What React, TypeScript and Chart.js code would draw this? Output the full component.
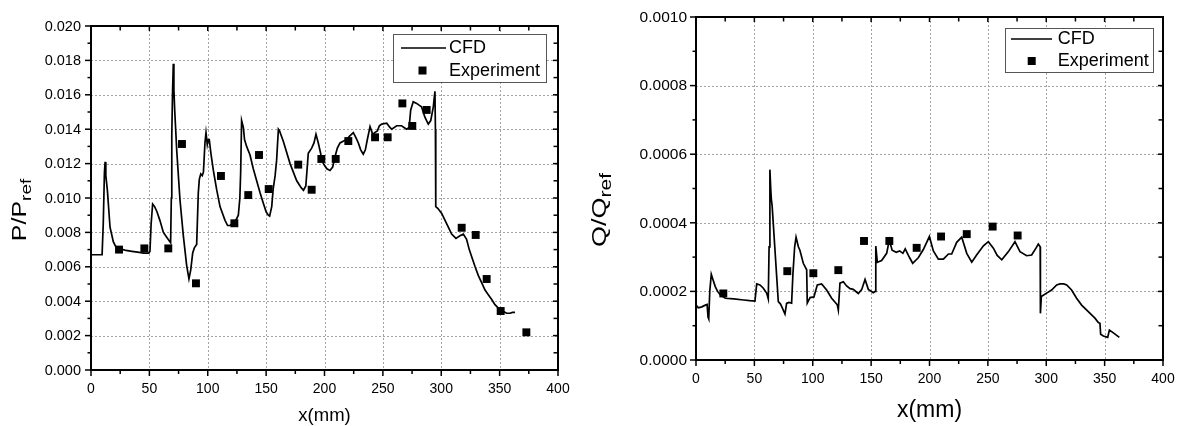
import React, { useEffect, useRef } from 'react';
import { Chart, registerables } from 'chart.js';

Chart.register(...registerables);

// ---------- data ----------
const seriesLabels = ['CFD', 'Experiment'];
const xAxisTitle = 'x(mm)';

const xTickValues = [0, 50, 100, 150, 200, 250, 300, 350, 400];
const xTickLabels = ['0', '50', '100', '150', '200', '250', '300', '350', '400'];

const pTickValues = [0, 0.002, 0.004, 0.006, 0.008, 0.01, 0.012, 0.014, 0.016, 0.018, 0.02];
const pTickLabels = ['0.000', '0.002', '0.004', '0.006', '0.008', '0.010', '0.012', '0.014', '0.016', '0.018', '0.020'];

const qTickValues = [0, 0.0002, 0.0004, 0.0006, 0.0008, 0.001];
const qTickLabels = ['0.0000', '0.0002', '0.0004', '0.0006', '0.0008', '0.0010'];

// Left panel: P/Pref
const cfdPX = [
  0, 5, 9.5, 10.5, 11.5, 12.1, 12.7, 14, 16.3, 19.1, 21, 23.4, 26, 30, 35, 40, 45, 48, 49.5,
  50.5, 51.5, 52.8, 54.5, 56.5, 59, 62, 65, 68.2, 68.8, 69.2, 69.8, 70.5, 71.0, 71.7, 73.4,
  76.2, 79.1, 81.9, 83.9, 85.4, 87.1, 88.5, 90.5, 91.9, 92.8, 94.0, 95.3, 96.3, 97.6, 98.5,
  99.6, 100.5, 101.3, 102.7, 104.8, 107.6, 110.5, 114.8, 117, 119.1, 121, 123.3, 126.2, 127.5,
  128.2, 129, 130.5, 131.5, 133.3, 136.2, 139, 141.9, 144.8, 147.6, 150, 151.9, 153, 154.8,
  156, 157.7, 159, 160.5, 161.5, 164.7, 170.5, 176.2, 180, 182, 184, 186.1, 189, 191, 192.7,
  194.7, 197, 199, 202, 204.7, 207, 209, 211, 213.3, 216, 219, 221.5, 224.7, 227, 229, 231,
  233.2, 235, 236.7, 239, 241.3, 243, 245.3, 247, 249, 253.3, 256, 257.6, 261.8, 266, 270.3,
  272.5, 273.8, 276, 278.9, 281, 283.1, 286, 288.9, 291, 293.2, 294.6, 295.0, 295.3, 297,
  300.4, 304.7, 308.9, 312.6, 316, 318.9, 321.7, 324, 326, 329, 331.7, 334.5, 337.5, 340,
  343.2, 346, 348.9, 353.2, 356, 358.9, 361, 363.2,
];
const cfdPY = [
  0.0067, 0.0067, 0.0067, 0.0085, 0.0115, 0.0121, 0.0113, 0.01047, 0.0083, 0.00746, 0.0072,
  0.0071, 0.00703, 0.00695, 0.0069, 0.00685, 0.0068, 0.0068, 0.0068,
  0.0069, 0.0085, 0.00965, 0.0095, 0.0092, 0.0087, 0.0080, 0.0077, 0.0074, 0.0100, 0.0137,
  0.0160, 0.0178, 0.0163, 0.0151, 0.0128,
  0.0099, 0.0078, 0.0061, 0.0053, 0.0058, 0.0068, 0.0071, 0.0073, 0.0103, 0.0111, 0.0114,
  0.0113, 0.0115, 0.0132, 0.0138,
  0.0131, 0.0134, 0.0134, 0.0126, 0.0116, 0.0105, 0.0095, 0.0087, 0.0084, 0.0084, 0.0085,
  0.0086, 0.0090, 0.0100,
  0.0115, 0.0145, 0.0141, 0.0134, 0.0130, 0.0125, 0.0117, 0.0110, 0.0103, 0.0097, 0.0092,
  0.0090, 0.00895, 0.0095,
  0.0105, 0.0113, 0.0122, 0.0140, 0.0139, 0.0133, 0.0120, 0.0110, 0.0106, 0.01045, 0.0107,
  0.0126, 0.0129, 0.0132, 0.0137,
  0.0132, 0.0125, 0.0120, 0.0117, 0.0116, 0.0118, 0.0124, 0.0129, 0.0132, 0.0133, 0.0134,
  0.0136, 0.0138, 0.0135, 0.0132, 0.0128,
  0.01255, 0.0128, 0.0134, 0.01415, 0.0137, 0.0138, 0.0139, 0.0142, 0.0143, 0.01435, 0.0141,
  0.0140, 0.0142, 0.0142, 0.0140,
  0.0141, 0.0151, 0.0156, 0.0155, 0.0154, 0.0153, 0.0147, 0.0143, 0.0145, 0.0153, 0.0162,
  0.0140, 0.0095, 0.0094,
  0.0091, 0.0085, 0.0079, 0.00765, 0.0078, 0.0079, 0.0076, 0.0070, 0.0066, 0.0060, 0.0055,
  0.0051, 0.00465, 0.0044,
  0.0041, 0.0038, 0.0036, 0.0034, 0.0033, 0.0033, 0.00335, 0.00335,
];
const expPX = [
  24, 45.7, 66.2, 77.9, 89.9, 111.3, 122.8, 134.7, 143.9, 152.2, 177.5, 189, 197.3, 209.6,
  220.4, 243.3, 254.1, 266.7, 275.2, 287.5, 317.5, 329.5, 338.9, 350.9, 372.9,
];
const expPY = [
  0.0070, 0.00707, 0.00707, 0.01314, 0.00504, 0.01128, 0.00853, 0.01017, 0.0125, 0.01052,
  0.01194, 0.01048, 0.01227, 0.01227, 0.01331, 0.01353, 0.01353, 0.0155, 0.01419, 0.01512,
  0.00827, 0.00785, 0.00529, 0.00343, 0.00219,
];

// Right panel: Q/Qref
const cfdQX = [
  0, 2, 5, 8, 9.5, 10.3, 10.9, 11.8, 13.1, 14.5, 16.5, 18.5, 20.8, 25.1, 32.3, 40.9, 46, 50.5,
  52.0, 54.8, 57.5, 60.5, 61.9, 62.6, 63.3, 64.0, 64.5, 65.2, 70.5, 72.4, 74.2, 76.2, 77.6,
  79.5, 81.9, 83, 84.5, 85.7, 87.7, 89, 91.9, 94.8, 95.3, 97.7, 101, 103.9, 107.6, 111.9,
  116.2, 121, 121.9, 123.3, 126.2, 129, 132, 134.7, 139, 141.9, 144.8, 147.6, 151.9, 153.5,
  154.0, 155.3, 159, 163.3, 165.6, 168, 171.5, 174.4, 177.2, 179.2, 183, 185.6, 190.4, 194.7,
  199.9, 203.3, 207.6, 211.9, 216.2, 219, 223.3, 227.6, 231.9, 236.2, 240.5, 246.2, 250.4,
  254.7, 258, 261.9, 267.6, 273.2, 277.5, 283.2, 287.5, 291.2, 293.2, 294.8, 295.0, 295.8,
  300.3, 304.6, 308.9, 311.8, 315, 317.5, 321.7, 326, 330.3, 336, 341.7, 344.6, 346, 346.6,
  348.9, 352.6, 354.1, 357.5, 362.6,
];
const cfdQY = [
  0.00016, 0.000152, 0.000155, 0.00016, 0.000162, 0.000125, 0.00012, 0.0002, 0.00025,
  0.000235, 0.000214, 0.0002, 0.00019, 0.00018, 0.000178, 0.000175, 0.000173, 0.000172,
  0.000222, 0.000219, 0.00021, 0.000195, 0.000178, 0.00033, 0.000555, 0.0005, 0.00047,
  0.00045, 0.00017, 0.000163, 0.00015, 0.000134, 0.000165,
  0.000168, 0.000166, 0.00025, 0.00033, 0.000358, 0.00033, 0.00032, 0.000282, 0.000263,
  0.000166, 0.000182, 0.000184, 0.000219, 0.000222, 0.000204,
  0.00018, 0.000161, 0.000146, 0.000224, 0.000228, 0.000216, 0.000208, 0.000206, 0.000194,
  0.000205, 0.000235, 0.000206, 0.000196, 0.0002,
  0.000332, 0.000285, 0.00029, 0.000311, 0.00035, 0.00032, 0.000314, 0.000318, 0.000311,
  0.000324, 0.000298, 0.000282, 0.000298, 0.000322,
  0.00036, 0.000318, 0.000294, 0.000294, 0.000309, 0.000309, 0.000343, 0.000358, 0.000311,
  0.000285, 0.000307, 0.000333, 0.000345,
  0.000326, 0.000305, 0.000292, 0.000316, 0.000345, 0.000316, 0.000304, 0.000306, 0.000326,
  0.000338, 0.00033, 0.000136, 0.000185,
  0.000195, 0.000204, 0.000219, 0.000222, 0.000222, 0.000219, 0.000204, 0.00018, 0.00016,
  0.000141, 0.000122, 0.000109, 0.000107, 0.000075,
  0.00007, 0.000066, 0.000087, 0.000079, 0.000066,
];
const expQX = [23.4, 78.2, 100.5, 121.9, 143.9, 165.6, 189, 209.9, 231.9, 254.1, 275.5];
const expQY = [
  0.000194, 0.000259, 0.000253, 0.000262, 0.000347, 0.000347, 0.000327, 0.00036, 0.000367,
  0.000389, 0.000363,
];

// ---------- presentation ----------
const FONT = "'Liberation Sans', Arial, Helvetica, sans-serif";

type PanelSpec = {
  canvasLeft: number;
  canvasWidth: number;
  area: { l: number; t: number; r: number; b: number };
  cfdX: number[];
  cfdY: number[];
  expX: number[];
  expY: number[];
  yTicks: number[];
  yLabels: string[];
  yMax: number;
  yFont: number;
  yLabelGap: number;
  xLabelBaseline: number;
  titleMain: string;
  titleSub: string;
  titleMainSize: number;
  titleSubSize: number;
  titleBaseX: number;
  titleCenterY: number;
  xTitleSize: number;
  xTitleBaseline: number;
  legend: { l: number; t: number; r: number; b: number; lineX0: number; lineX1: number; markX: number; textX: number; y1: number; y2: number; font: number };
};

const panels: PanelSpec[] = [
  {
    canvasLeft: 0,
    canvasWidth: 590,
    area: { l: 91, t: 26, r: 558, b: 370 },
    cfdX: cfdPX,
    cfdY: cfdPY,
    expX: expPX,
    expY: expPY,
    yTicks: pTickValues,
    yLabels: pTickLabels,
    yMax: 0.02,
    yFont: 14.5,
    yLabelGap: 10,
    xLabelBaseline: 23,
    titleMain: 'P/P',
    titleSub: 'ref',
    titleMainSize: 25,
    titleSubSize: 19,
    titleBaseX: 26,
    titleCenterY: 210,
    xTitleSize: 18.5,
    xTitleBaseline: 421,
    legend: { l: 393, t: 34, r: 546, b: 82, lineX0: 401, lineX1: 446, markX: 422.5, textX: 449, y1: 48, y2: 70.5, font: 18 },
  },
  {
    canvasLeft: 590,
    canvasWidth: 591,
    area: { l: 106, t: 17, r: 573, b: 360 },
    cfdX: cfdQX,
    cfdY: cfdQY,
    expX: expQX,
    expY: expQY,
    yTicks: qTickValues,
    yLabels: qTickLabels,
    yMax: 0.001,
    yFont: 15.5,
    yLabelGap: 9,
    xLabelBaseline: 23,
    titleMain: 'Q/Q',
    titleSub: 'ref',
    titleMainSize: 27,
    titleSubSize: 21,
    titleBaseX: 16,
    titleCenterY: 210,
    xTitleSize: 23,
    xTitleBaseline: 417,
    legend: { l: 415, t: 28, r: 563, b: 72, lineX0: 421, lineX1: 462, markX: 441.7, textX: 467.7, y1: 39, y2: 61, font: 18 },
  },
];

function midpoints(vals: number[]): number[] {
  const out: number[] = [];
  for (let i = 0; i < vals.length - 1; i++) out.push((vals[i] + vals[i + 1]) / 2);
  return out;
}

function makeFramePlugin(p: PanelSpec) {
  return {
    id: 'originFrame',
    beforeDatasetsDraw(chart: any) {
      const { ctx, chartArea: a, scales } = chart;
      const xs = scales.x;
      const ys = scales.y;
      ctx.save();
      ctx.strokeStyle = '#a4a4a4';
      ctx.lineWidth = 1;
      ctx.setLineDash([2, 2]);
      for (const v of xTickValues) {
        const px = Math.round(xs.getPixelForValue(v)) + 0.5;
        if (px <= a.left + 2 || px >= a.right - 2) continue;
        ctx.beginPath();
        ctx.moveTo(px, a.top);
        ctx.lineTo(px, a.bottom);
        ctx.stroke();
      }
      for (const v of p.yTicks) {
        const py = Math.round(ys.getPixelForValue(v)) + 0.5;
        if (py <= a.top + 2 || py >= a.bottom - 2) continue;
        ctx.beginPath();
        ctx.moveTo(a.left, py);
        ctx.lineTo(a.right, py);
        ctx.stroke();
      }
      ctx.restore();
    },
    afterDatasetsDraw(chart: any) {
      const { ctx, chartArea: a, scales } = chart;
      const xs = scales.x;
      const ys = scales.y;
      ctx.save();
      ctx.setLineDash([]);
      ctx.strokeStyle = '#000';

      // ticks
      ctx.lineWidth = 1.5;
      const tick = (x0: number, y0: number, x1: number, y1: number) => {
        ctx.beginPath();
        ctx.moveTo(x0, y0);
        ctx.lineTo(x1, y1);
        ctx.stroke();
      };
      const majX = xTickValues;
      const minX = midpoints(xTickValues);
      const majY = p.yTicks;
      const minY = midpoints(p.yTicks);
      for (const v of majX) {
        const px = xs.getPixelForValue(v);
        tick(px, a.bottom, px, a.bottom + 6);
        tick(px, a.top, px, a.top + 5);
      }
      for (const v of minX) {
        const px = xs.getPixelForValue(v);
        tick(px, a.bottom, px, a.bottom + 4);
        tick(px, a.top, px, a.top + 4.5);
      }
      for (const v of majY) {
        const py = ys.getPixelForValue(v);
        tick(a.left - 6, py, a.left, py);
        tick(a.right - 5, py, a.right, py);
      }
      for (const v of minY) {
        const py = ys.getPixelForValue(v);
        tick(a.left - 3.5, py, a.left, py);
        tick(a.right - 4.5, py, a.right, py);
      }

      // frame
      ctx.lineWidth = 2;
      ctx.strokeRect(a.left, a.top, a.right - a.left, a.bottom - a.top);

      // tick labels
      ctx.fillStyle = '#000';
      ctx.font = `14px ${FONT}`;
      ctx.textAlign = 'center';
      ctx.textBaseline = 'alphabetic';
      xTickValues.forEach((v, i) => {
        ctx.fillText(xTickLabels[i], xs.getPixelForValue(v), a.bottom + p.xLabelBaseline);
      });
      ctx.font = `${p.yFont}px ${FONT}`;
      ctx.textAlign = 'right';
      ctx.textBaseline = 'middle';
      p.yTicks.forEach((v, i) => {
        ctx.fillText(p.yLabels[i], a.left - p.yLabelGap, ys.getPixelForValue(v) + 0.5);
      });

      // x title
      ctx.font = `${p.xTitleSize}px ${FONT}`;
      ctx.textAlign = 'center';
      ctx.textBaseline = 'alphabetic';
      ctx.fillText(xAxisTitle, (a.left + a.right) / 2, p.xTitleBaseline);

      // y title (rotated, with subscript)
      const mainFont = `${p.titleMainSize}px ${FONT}`;
      const subFont = `${p.titleSubSize}px ${FONT}`;
      ctx.font = mainFont;
      const wm = ctx.measureText(p.titleMain).width;
      ctx.font = subFont;
      const wsub = ctx.measureText(p.titleSub).width;
      const total = wm + wsub;
      const squash = 0.78;
      ctx.save();
      ctx.translate(p.titleBaseX, p.titleCenterY);
      ctx.rotate(-Math.PI / 2);
      ctx.scale(1, squash);
      ctx.textAlign = 'left';
      ctx.textBaseline = 'alphabetic';
      ctx.font = mainFont;
      ctx.fillText(p.titleMain, -total / 2, 0);
      ctx.font = subFont;
      ctx.fillText(p.titleSub, -total / 2 + wm, 4.5 / squash);
      ctx.restore();

      // legend
      const L = p.legend;
      ctx.fillStyle = '#fff';
      ctx.fillRect(L.l, L.t, L.r - L.l, L.b - L.t);
      ctx.strokeStyle = '#555';
      ctx.lineWidth = 1;
      ctx.strokeRect(L.l + 0.5, L.t + 0.5, L.r - L.l, L.b - L.t);
      ctx.strokeStyle = '#000';
      ctx.lineWidth = 1.7;
      tick(L.lineX0, L.y1, L.lineX1, L.y1);
      ctx.fillStyle = '#000';
      ctx.fillRect(L.markX - 4, L.y2 - 4, 8, 8);
      const ds = chart.data.datasets;
      ctx.font = `${L.font}px ${FONT}`;
      ctx.textAlign = 'left';
      ctx.textBaseline = 'middle';
      ctx.fillText(ds[1].label, L.textX, L.y1 + 0.5);
      ctx.fillText(ds[0].label, L.textX, L.y2 + 0.5);
      ctx.restore();
    },
  };
}

function Panel({ spec }: { spec: PanelSpec }) {
  const ref = useRef<HTMLCanvasElement | null>(null);
  useEffect(() => {
    const canvas = ref.current;
    if (!canvas) return;
    const H = 426;
    const a = spec.area;
    const chart = new Chart(canvas, {
      type: 'scatter',
      data: {
        datasets: [
          {
            label: seriesLabels[1],
            data: spec.expX.map((x, i) => ({ x, y: spec.expY[i] })),
            showLine: false,
            pointStyle: 'rect',
            pointRadius: 5.6,
            backgroundColor: '#000',
            borderColor: '#000',
            borderWidth: 0,
            order: 0,
          },
          {
            label: seriesLabels[0],
            data: spec.cfdX.map((x, i) => ({ x, y: spec.cfdY[i] })),
            showLine: true,
            borderColor: '#000',
            borderWidth: 1.7,
            pointRadius: 0,
            tension: 0,
            fill: false,
            order: 1,
          },
        ],
      },
      options: {
        responsive: false,
        maintainAspectRatio: false,
        animation: false,
        events: [],
        layout: {
          padding: { left: a.l, top: a.t, right: spec.canvasWidth - a.r, bottom: H - a.b },
        },
        scales: {
          x: { type: 'linear', min: 0, max: 400, display: false },
          y: { type: 'linear', min: 0, max: spec.yMax, display: false },
        },
        plugins: {
          legend: { display: false },
          tooltip: { enabled: false },
        },
      },
      plugins: [makeFramePlugin(spec)],
    } as any);
    return () => chart.destroy();
  }, [spec]);
  return (
    <canvas
      ref={ref}
      width={spec.canvasWidth}
      height={426}
      style={{ position: 'absolute', left: spec.canvasLeft, top: 0, width: spec.canvasWidth, height: 426, display: 'block' }}
    />
  );
}

export default function App() {
  return (
    <div style={{ position: 'absolute', left: 0, top: 0, width: 1181, height: 426, background: '#fff', overflow: 'hidden' }}>
      {panels.map((p, i) => (
        <Panel key={i} spec={p} />
      ))}
    </div>
  );
}
